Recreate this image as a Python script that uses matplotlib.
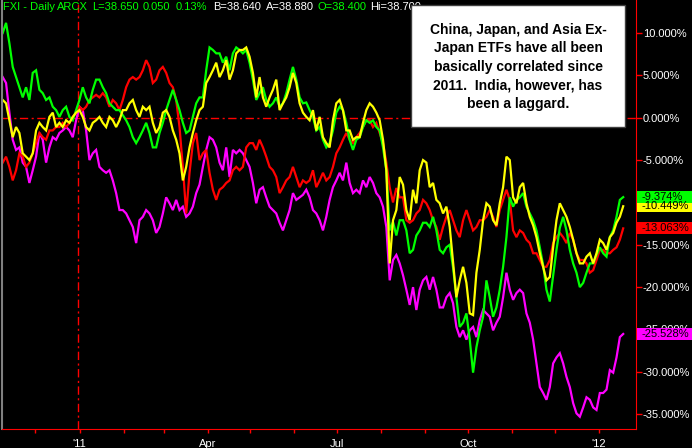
import numpy as np
import pandas as pd
import matplotlib
matplotlib.use("Agg")
import matplotlib.pyplot as plt
import matplotlib.dates as mdates
import matplotlib.transforms as mtransforms
from matplotlib.patches import Rectangle

# percent change series, sampled every ~2.3 calendar days
dates = pd.date_range('2010-11-08', '2012-01-18', periods=187)

green_pct = [10.0, 11.2, 8.8, 6.0, 4.8, 3.6, 2.4, 3.6, 2.1, 5.3,
             5.6, 3.3, 2.9, 2.1, 2.4, 1.3, 0.9, 0.1, 0.9, 1.3,
             0.1, -0.3, 0.9, 2.1, 3.6, 2.4, 1.7, 3.3, 4.5, 4.5,
             3.6, 2.9, 1.7, 1.3, 0.9, 0.9, 0.3, -0.3, -1.1, -2.3,
             -3.0, -2.3, -1.5, -0.6, -1.8, -3.5, -3.5, -1.8, -0.6, 0.9,
             2.1, 3.3, 2.1, 0.9, -0.6, -1.8, -1.5, 0.1, 1.7, 2.4,
             2.4, 5.6, 8.3, 8.0, 7.6, 7.6, 6.5, 7.2, 5.6, 7.6,
             8.3, 8.0, 7.6, 8.0, 6.5, 4.5, 2.1, 2.9, 3.6, 2.1,
             1.3, 1.7, 2.4, 1.3, 1.7, 2.9, 4.5, 6.0, 4.5, 2.4,
             1.7, 1.8, 0.9, 0.1, -1.5, -1.1, -2.6, -3.5, -3.0, -1.5,
             0.6, 1.3, 0.9, -0.6, -2.6, -3.8, -2.6, -2.3, -1.1, -0.3,
             -0.6, -0.3, -1.1, -1.5, -3.5, -6.2, -13.3, -12.3, -13.9, -12.1,
             -12.1, -13.3, -16.0, -15.6, -13.9, -13.3, -12.4, -12.4, -12.9, -11.7,
             -13.3, -15.6, -16.0, -15.3, -15.0, -17.7, -21.2, -24.7, -24.2, -23.1,
             -26.2, -30.1, -27.1, -25.1, -23.5, -19.2, -21.2, -23.5, -22.4, -20.3,
             -17.6, -14.1, -9.4, -10.5, -9.7, -9.4, -8.9, -10.5, -11.3, -12.1,
             -13.3, -15.3, -17.4, -20.3, -21.7, -18.6, -15.6, -13.0, -11.7, -13.3,
             -15.6, -17.2, -18.3, -20.0, -19.5, -18.3, -17.2, -17.2, -16.2, -15.3,
             -16.0, -16.4, -14.1, -13.3, -11.7, -9.7, -9.374]

yellow_pct = [2.1, 1.7, -0.3, -2.3, -1.1, -1.8, -4.2, -4.6, -5.0, -4.2,
              -1.5, -0.6, -1.1, -1.5, 0.1, 0.6, -1.1, -0.6, -1.1, -0.3,
              -0.6, 0.1, 0.6, 0.9, 0.1, -1.1, -1.5, -0.6, -0.3, 0.1,
              -0.6, -1.1, 0.1, -0.3, -1.1, -0.3, 0.9, 0.9, 1.7, 2.1,
              0.9, 0.1, 1.3, 0.9, 1.3, -0.6, -1.8, -1.1, 0.6, 0.9,
              0.1, -1.5, -2.6, -4.2, -7.4, -5.8, -3.5, -1.8, -0.3, 0.9,
              1.3, 4.1, 4.8, 5.6, 6.5, 4.8, 5.6, 6.8, 4.5, 5.6,
              7.6, 8.0, 8.0, 8.3, 7.2, 5.3, 2.4, 4.8, 2.4, 1.3,
              2.4, 3.3, 4.5, 0.9, 1.7, 2.4, 3.6, 5.3, 4.1, 1.7,
              0.6, 0.1, -0.3, 0.9, -1.5, 0.1, -2.3, -3.0, -3.5, -0.3,
              1.7, 2.1, 0.9, -1.5, -1.5, -2.6, -2.3, -2.3, -0.6, 0.9,
              1.7, 1.3, 0.6, -0.3, -2.6, -6.2, -17.2, -12.1, -10.9, -7.0,
              -7.9, -10.9, -12.1, -8.5, -10.1, -6.2, -5.0, -5.3, -8.2, -7.7,
              -9.7, -10.1, -11.3, -10.5, -12.9, -17.0, -21.2, -19.2, -17.6, -19.5,
              -23.1, -23.3, -18.3, -15.6, -12.1, -10.1, -10.5, -12.1, -12.7, -10.1,
              -8.2, -4.6, -5.0, -9.4, -10.1, -8.2, -7.7, -10.1, -11.7, -12.7,
              -14.1, -16.0, -17.6, -19.2, -18.8, -15.3, -12.1, -10.1, -10.9, -11.7,
              -12.9, -14.4, -16.0, -17.2, -17.2, -16.4, -16.0, -17.2, -16.0, -14.4,
              -14.8, -15.6, -14.1, -13.6, -12.4, -11.7, -10.449]

red_pct = [-5.3, -4.6, -5.8, -7.4, -6.2, -4.2, -4.6, -5.8, -5.3, -4.2,
           -3.0, -1.8, -2.3, -2.6, -1.5, -1.5, -1.1, -1.1, -0.6, -1.1,
           -0.6, 0.1, 0.6, 1.3, 0.9, 1.3, 2.1, 2.4, 2.7, 2.4,
           2.9, 2.4, 1.3, 2.1, 1.7, 0.9, 2.1, 3.6, 4.5, 4.8,
           4.5, 4.8, 5.6, 6.8, 6.0, 4.1, 4.5, 5.6, 6.0, 5.3,
           4.1, 3.6, 2.1, -1.1, -5.8, -11.3, -6.5, -3.0, -1.8, -5.0,
           -4.2, -3.8, -6.5, -8.5, -9.7, -8.5, -8.2, -7.7, -7.4, -6.2,
           -5.8, -6.2, -5.8, -3.5, -3.0, -3.0, -3.8, -2.6, -3.5, -4.6,
           -5.8, -6.2, -7.0, -8.9, -8.2, -7.4, -7.0, -5.8, -7.0, -8.2,
           -7.4, -7.7, -7.4, -6.2, -8.2, -7.4, -6.5, -7.4, -7.0, -5.8,
           -4.2, -3.5, -2.6, -1.8, -2.6, -3.0, -2.3, -1.8, -1.1, -0.3,
           -0.3, -1.1, -0.6, -1.8, -3.0, -5.3, -8.2, -10.0, -8.3, -9.4,
           -9.4, -12.1, -12.4, -12.1, -11.3, -10.9, -9.7, -10.1, -10.9, -12.1,
           -12.9, -14.4, -12.9, -11.7, -10.9, -12.1, -13.3, -14.1, -12.1, -10.9,
           -12.1, -13.3, -12.9, -12.1, -12.1, -11.7, -10.9, -11.7, -12.9, -10.9,
           -9.7, -8.5, -9.7, -13.3, -14.1, -13.3, -13.6, -14.4, -14.8, -16.0,
           -16.0, -16.8, -17.6, -17.6, -16.8, -14.8, -14.1, -13.6, -14.1, -14.8,
           -13.6, -14.4, -16.0, -16.8, -16.8, -17.2, -18.3, -18.0, -16.8, -15.6,
           -15.6, -16.0, -16.0, -15.6, -15.3, -14.4, -13.063]

magenta_pct = [4.8, 4.1, 0.6, -2.6, -3.8, -3.5, -5.3, -5.8, -7.7, -6.2,
               -4.6, -1.8, -2.6, -5.3, -3.5, -2.3, -2.6, -1.8, -1.5, -1.1,
               -1.5, -2.3, -0.3, 1.3, 0.9, -1.5, -5.0, -4.2, -3.8, -5.8,
               -6.2, -6.5, -6.2, -7.4, -8.9, -10.9, -10.9, -11.3, -12.1, -12.9,
               -14.8, -12.1, -11.7, -10.9, -11.3, -12.1, -13.6, -12.9, -11.3, -9.4,
               -10.1, -10.9, -9.7, -10.9, -10.5, -11.7, -11.3, -10.5, -8.9, -7.9,
               -5.8, -3.8, -2.3, -2.6, -3.5, -5.3, -6.2, -3.5, -7.0, -3.8,
               -4.2, -3.8, -4.2, -5.0, -5.8, -7.7, -10.1, -8.5, -8.2, -9.4,
               -10.5, -10.9, -11.3, -12.4, -13.3, -12.1, -10.9, -8.9, -9.7, -9.4,
               -9.1, -8.5, -9.4, -10.9, -11.3, -12.1, -13.3, -11.7, -9.7, -8.2,
               -7.4, -6.5, -7.4, -5.3, -7.7, -8.9, -8.5, -8.9, -7.4, -8.2,
               -7.0, -7.7, -8.9, -9.4, -10.5, -12.9, -19.2, -16.8, -16.2, -17.2,
               -18.6, -20.3, -22.1, -20.0, -22.7, -20.3, -19.2, -18.8, -20.3, -18.8,
               -20.3, -22.4, -22.4, -21.2, -20.7, -21.9, -24.7, -25.9, -25.1, -26.2,
               -25.1, -24.7, -25.9, -23.9, -22.7, -23.1, -23.5, -25.1, -24.2, -23.5,
               -21.2, -18.3, -20.3, -21.5, -20.7, -20.3, -20.7, -23.1, -24.2, -26.2,
               -29.0, -31.8, -32.5, -33.3, -31.8, -29.0, -28.3, -27.8, -29.0, -30.6,
               -31.8, -33.7, -34.9, -35.3, -34.2, -33.0, -33.3, -34.2, -34.5, -32.5,
               -32.5, -32.1, -29.8, -30.1, -28.3, -25.9, -25.528]

y_ticks = [10, 5, 0, -5, -10, -15, -20, -25, -30, -35]
x_labels = ["'11", "Apr", "Jul", "Oct", "'12"]
x_label_dates = ['2011-01-01', '2011-04-01', '2011-07-01', '2011-10-01', '2012-01-01']

note = ("China, Japan, and Asia Ex-\nJapan ETFs have all been\n"
        "basically correlated since\n2011.  India, however, has\nbeen a laggard.")

W, H = 692, 448
fig = plt.figure(figsize=(W / 100, H / 100), dpi=100, facecolor='black')
ax = fig.add_axes([2 / W, 19 / H, 634 / W, 429 / H], facecolor='black')

series = [(magenta_pct, '#ff00ff'), (red_pct, '#ff0000'),
          (green_pct, '#00ff00'), (yellow_pct, '#ffff00')]
for vals, col in series:
    ax.plot(dates, vals, color=col, lw=1.6, solid_joinstyle='miter')

ax.axhline(0, color='#ff0000', lw=1, dashes=[6, 2.5, 1.5, 2.5], zorder=1)
ax.axvline(pd.Timestamp('2010-12-31'), color='#ff0000', lw=1, dashes=[6, 2.5, 1.5, 2.5], zorder=1)

ax.set_xlim(pd.Timestamp('2010-11-07 12:00'), pd.Timestamp('2012-01-27'))
ax.set_ylim(-36.75, 13.9)

# axes styling
ax.spines['top'].set_visible(False)
ax.spines['left'].set_color('#808080')
ax.spines['left'].set_linewidth(1.5)
ax.spines['right'].set_color('#ff0000')
ax.spines['bottom'].set_color('#ff0000')

ax.yaxis.tick_right()
ax.set_yticks(y_ticks)
ax.set_yticklabels(['%.3f%%' % v for v in y_ticks])
ax.tick_params(axis='y', colors='#ff0000', labelcolor='white', length=4, width=1,
               pad=1, labelsize=8)

ax.set_xticks([pd.Timestamp(d) for d in x_label_dates])
ax.set_xticklabels(x_labels)
ax.xaxis.set_minor_locator(mdates.MonthLocator())
ax.tick_params(axis='x', which='both', colors='#ff0000', labelcolor='white',
               length=3, width=1, pad=4, labelsize=8)
for lab in ax.get_xticklabels() + ax.get_yticklabels():
    lab.set_fontfamily('Liberation Sans')

# last-value boxes on the right axis
trans = mtransforms.blended_transform_factory(ax.transAxes, ax.transData)
ends = [(yellow_pct, '#ffff00'), (green_pct, '#00ff00'),
        (red_pct, '#ff0000'), (magenta_pct, '#ff00ff')]
for vals, col in ends:
    v = vals[-1]
    ax.add_patch(Rectangle((1.0016, v - 0.7), 0.09, 1.4, transform=trans,
                           facecolor=col, edgecolor='none', clip_on=False, zorder=5))
    ax.text(1.0085, v, '%.3f%%' % v, transform=trans, color='black', fontsize=8,
            family='Liberation Sans', va='center', ha='left', clip_on=False, zorder=6)

# quote header
header = [("FXI - Daily", 3, '#00ff00'), ("ARCX", 57, '#00ff00'),
          ("L=38.650", 92, '#00ff00'), ("0.050", 143, '#00ff00'),
          ("0.13%", 176, '#00ff00'), ("B=38.640", 213, 'white'),
          ("A=38.880", 266, 'white'), ("O=38.400", 317, '#00ff00'),
          ("Hi=38.700", 370, 'white')]
for txt, px, col in header:
    fig.text(px / W, 1 - 2.5 / H, txt, color=col, fontsize=8, family='Liberation Sans',
             va='top', ha='left', zorder=1)

# note box
fig.add_artist(Rectangle((411 / W, 1 - 127 / H), 214 / W, 122 / H, transform=fig.transFigure,
                         facecolor='white', edgecolor='#404040', lw=1, zorder=2))
fig.text(518 / W, 1 - 67 / H, note, color='black', fontsize=10, fontweight='bold',
         family='Liberation Sans', ha='center', va='center', linespacing=1.42,
         multialignment='center', zorder=3)

fig.savefig('out.png', dpi=100, facecolor='black')
